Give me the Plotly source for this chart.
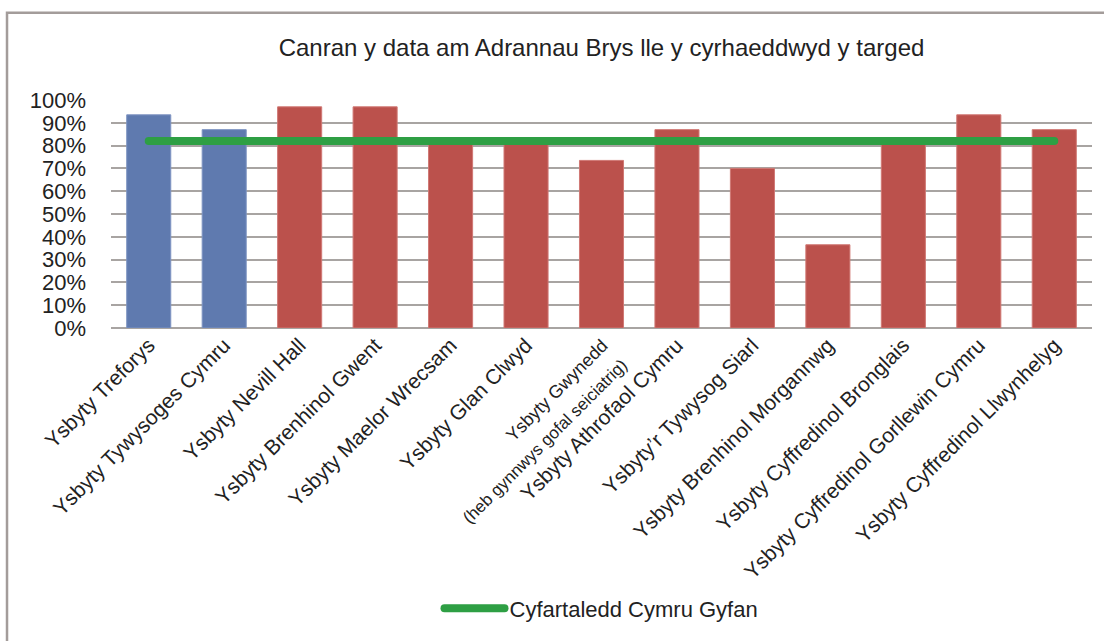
import plotly.graph_objects as go

title_text = "Canran y data am Adrannau Brys lle y cyrhaeddwyd y targed"
hospitals = [
    "Ysbyty Treforys",
    "Ysbyty Tywysoges Cymru",
    "Ysbyty Nevill Hall",
    "Ysbyty Brenhinol Gwent",
    "Ysbyty Maelor Wrecsam",
    "Ysbyty Glan Clwyd",
    "<span style='font-size:18px'>Ysbyty Gwynedd</span><br><span style='font-size:17px'>(heb gynnwys gofal seiciatrig)</span>",
    "Ysbyty Athrofaol Cymru",
    "Ysbyty’r Tywysog Siarl",
    "Ysbyty Brenhinol Morgannwg",
    "Ysbyty Cyffredinol Bronglais",
    "Ysbyty Cyffredinol Gorllewin Cymru",
    "Ysbyty Cyffredinol Llwynhelyg",
]
percent_met = [93.5, 87, 97, 97, 81, 81, 73.5, 87, 70, 36.5, 81, 93.5, 87]
group = ["blue", "blue", "red", "red", "red", "red", "red", "red", "red", "red", "red", "red", "red"]
wales_average_name = "Cyfartaledd Cymru Gyfan"
wales_average = [82] * len(hospitals)
y_ticks = list(range(0, 101, 10))
y_tick_labels = [f"{v}%" for v in y_ticks]

palette = {"blue": "#5F7AAF", "red": "#BB514C"}
edge = {"blue": "#7F95C2", "red": "#D07874"}
FONT = "Liberation Sans, Arial, sans-serif"

idx = list(range(len(hospitals)))

fig = go.Figure()
fig.add_trace(go.Bar(
    x=idx, y=percent_met,
    marker=dict(color=[palette[g] for g in group],
                line=dict(width=1, color=[edge[g] for g in group])),
    showlegend=False, hoverinfo="y",
))
fig.add_trace(go.Scatter(
    x=idx, y=wales_average, mode="lines",
    name=wales_average_name,
    line=dict(color="#2E9F44", width=8),
))

fig.update_layout(
    width=1104, height=641,
    margin=dict(l=111, r=12, t=100, b=311),
    paper_bgcolor="white", plot_bgcolor="white",
    font=dict(family=FONT, color="#222222"),
    title=dict(text=title_text, x=0.5, xref="paper", xanchor="center",
               y=1 - 48 / 641, yref="container", yanchor="middle",
               font=dict(size=24, family=FONT, color="#222222")),
    bargap=0.416,
    showlegend=True,
    legend=dict(orientation="h", x=0.5, xanchor="center", y=-1.23, yanchor="middle",
                font=dict(size=22, family=FONT, color="#222222"),
                bgcolor="rgba(0,0,0,0)", itemwidth=60),
    shapes=[dict(type="rect", xref="paper", yref="paper",
                 x0=-0.106, x1=1.03, y0=-1.45, y1=1.3826,
                 line=dict(color="#A39C9A", width=2.5), fillcolor="rgba(0,0,0,0)", layer="below")],
)
fig.update_xaxes(
    tickmode="array", tickvals=idx, ticktext=hospitals,
    tickangle=-45, tickfont=dict(size=21, family=FONT, color="#222222"),
    range=[-0.5, len(hospitals) - 0.5],
    showgrid=False, showline=False, ticks="",
)
fig.update_yaxes(
    range=[0, 100], tickmode="array", tickvals=y_ticks, ticktext=y_tick_labels,
    tickfont=dict(size=22, family=FONT, color="#222222"),
    showgrid=True, gridcolor="#A8A4A2", gridwidth=1.5,
    zeroline=True, zerolinecolor="#A8A4A2", zerolinewidth=1.5,
    ticklabelstandoff=24, showline=False,
)

post = """
document.body.style.margin = '0';
document.querySelectorAll('.scatterlayer .js-line, .legendlines path').forEach(function(p){
  p.style.strokeLinecap = 'round';
});
"""
fig.write_html("out.html", post_script=post, config={"displayModeBar": False})
